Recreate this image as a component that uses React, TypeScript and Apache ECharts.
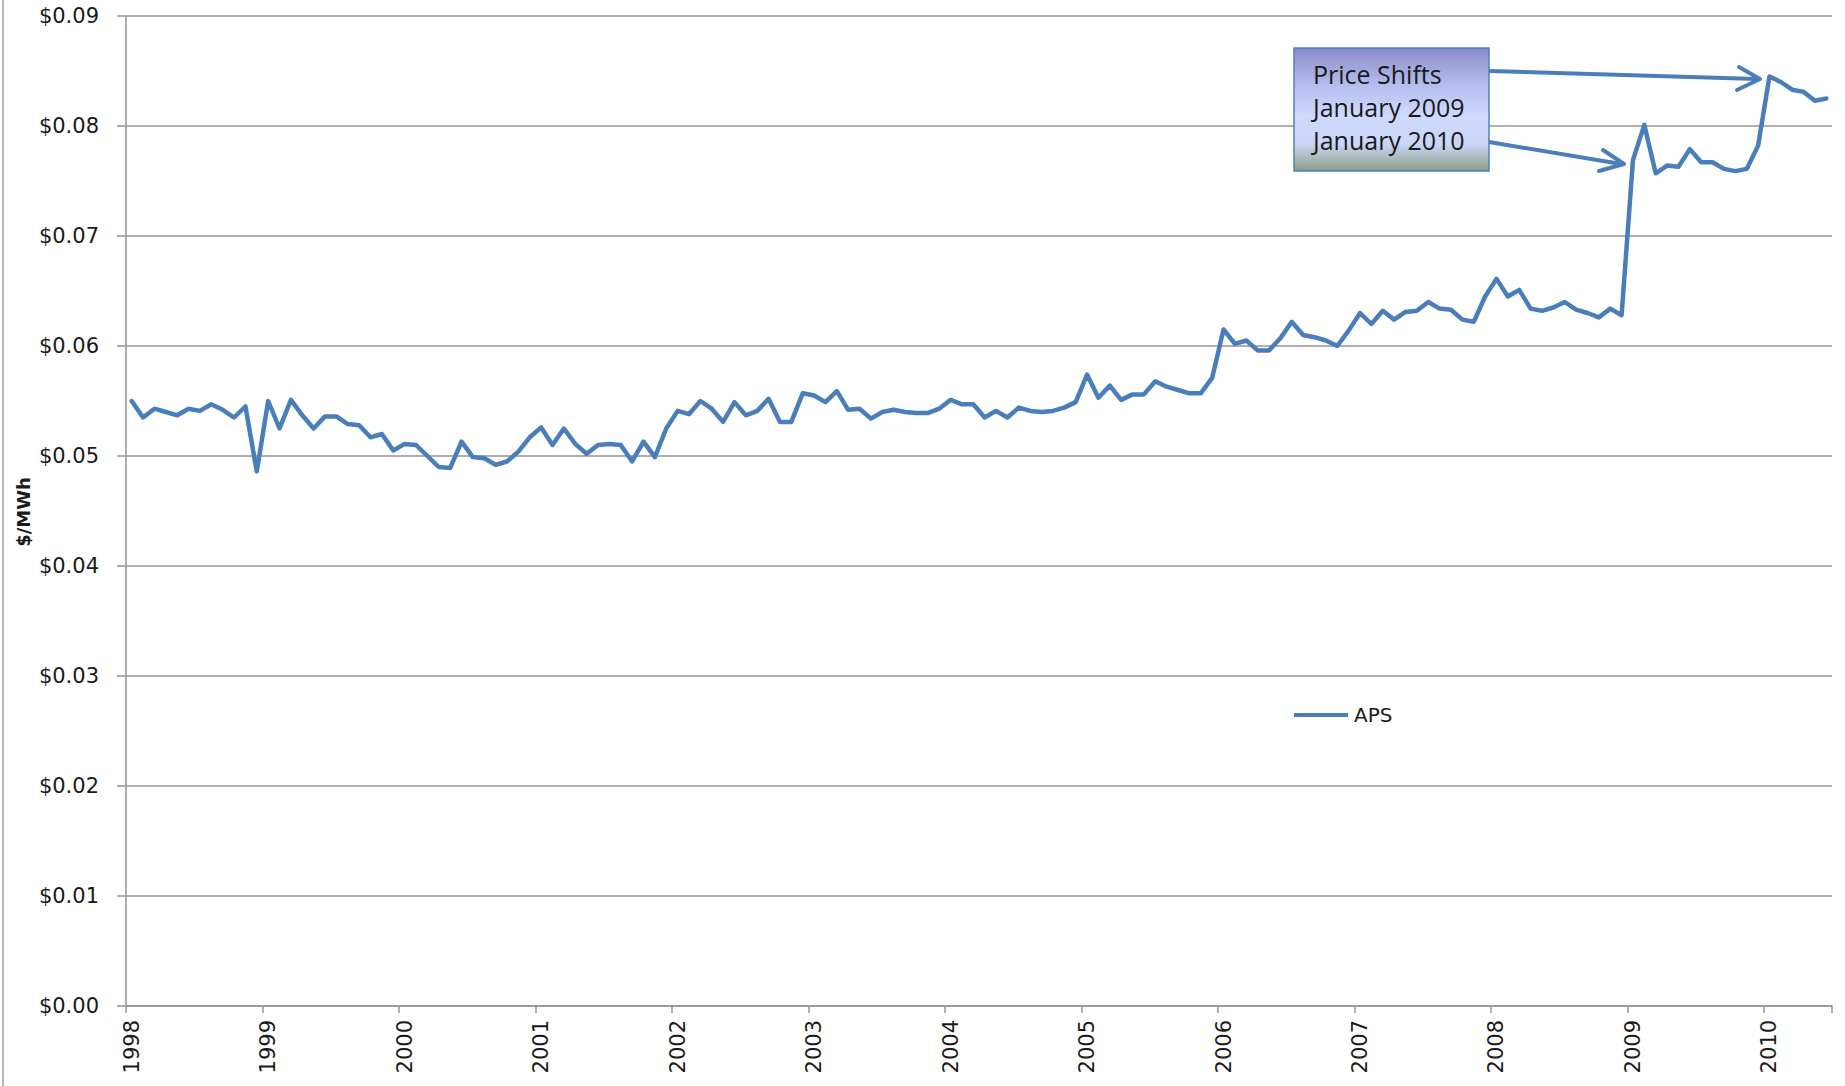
import React, { useEffect, useRef } from "react";
import * as echarts from "echarts";

const years = [1998, 1999, 2000, 2001, 2002, 2003, 2004, 2005, 2006, 2007, 2008, 2009, 2010];
const months = ["01", "02", "03", "04", "05", "06", "07", "08", "09", "10", "11", "12"];

const aps1998 = [0.0550, 0.0535, 0.0543, 0.0540, 0.0537, 0.0543, 0.0541, 0.0547, 0.0542, 0.0535, 0.0545, 0.0486];
const aps1999 = [0.0550, 0.0525, 0.0551, 0.0537, 0.0525, 0.0536, 0.0536, 0.0529, 0.0528, 0.0517, 0.0520, 0.0505];
const aps2000 = [0.0511, 0.0510, 0.0500, 0.0490, 0.0489, 0.0513, 0.0499, 0.0498, 0.0492, 0.0495, 0.0504, 0.0517];
const aps2001 = [0.0526, 0.0510, 0.0525, 0.0511, 0.0502, 0.0510, 0.0511, 0.0510, 0.0495, 0.0513, 0.0499, 0.0525];
const aps2002 = [0.0541, 0.0538, 0.0550, 0.0543, 0.0531, 0.0549, 0.0537, 0.0541, 0.0552, 0.0531, 0.0531, 0.0557];
const aps2003 = [0.0555, 0.0549, 0.0559, 0.0542, 0.0543, 0.0534, 0.0540, 0.0542, 0.0540, 0.0539, 0.0539, 0.0543];
const aps2004 = [0.0551, 0.0547, 0.0547, 0.0535, 0.0541, 0.0535, 0.0544, 0.0541, 0.0540, 0.0541, 0.0544, 0.0549];
const aps2005 = [0.0574, 0.0553, 0.0564, 0.0551, 0.0556, 0.0556, 0.0568, 0.0563, 0.0560, 0.0557, 0.0557, 0.0571];
const aps2006 = [0.0615, 0.0602, 0.0605, 0.0596, 0.0596, 0.0607, 0.0622, 0.0610, 0.0608, 0.0605, 0.0600, 0.0614];
const aps2007 = [0.0630, 0.0620, 0.0632, 0.0624, 0.0631, 0.0632, 0.0640, 0.0634, 0.0633, 0.0624, 0.0622, 0.0645];
const aps2008 = [0.0661, 0.0645, 0.0651, 0.0634, 0.0632, 0.0635, 0.0640, 0.0633, 0.0630, 0.0626, 0.0634, 0.0628];
const aps2009 = [0.0769, 0.0801, 0.0757, 0.0764, 0.0763, 0.0779, 0.0767, 0.0767, 0.0761, 0.0759, 0.0761, 0.0782];
const aps2010 = [0.0845, 0.0840, 0.0833, 0.0831, 0.0823, 0.0825];

const apsByYear = [aps1998, aps1999, aps2000, aps2001, aps2002, aps2003, aps2004, aps2005, aps2006, aps2007, aps2008, aps2009, aps2010];

const seriesName = "APS";
const yAxisTitle = "$/MWh";
const annotationLines = ["Price Shifts", "January 2009", "January 2010"];
const yMin = 0;
const yMax = 0.09;
const yStep = 0.01;

const FONT = "DejaVu Sans";
const BLUE = "#4a7ebb";
const GRID_GRAY = "#959595";

export default function App() {
  const ref = useRef<HTMLDivElement>(null);

  useEffect(() => {
    if (!ref.current) return;
    const chart = echarts.init(ref.current, undefined, { renderer: "svg" });

    const categories: string[] = [];
    const values: number[] = [];
    apsByYear.forEach((arr, yi) => {
      arr.forEach((v, mi) => {
        categories.push(`${years[yi]}-${months[mi]}`);
        values.push(v);
      });
    });

    const gradient = new echarts.graphic.LinearGradient(0, 0, 0, 1, [
      { offset: 0, color: "#8a8bc7" },
      { offset: 0.3, color: "#b4bdee" },
      { offset: 0.55, color: "#d0daff" },
      { offset: 0.78, color: "#cbd6f6" },
      { offset: 1, color: "#8b9d84" },
    ]);

    const option: any = {
      animation: false,
      backgroundColor: "#ffffff",
      grid: { left: 126, right: 13, top: 16, bottom: 80, containLabel: false },
      legend: {
        left: 1289,
        top: 700,
        itemWidth: 54,
        itemHeight: 4,
        itemGap: 6,
        icon: "rect",
        data: [seriesName],
        textStyle: { fontFamily: FONT, fontSize: 20, color: "#1a1a1a", padding: [0, 0, 0, 1] },
      },
      xAxis: {
        type: "category",
        data: categories,
        boundaryGap: true,
        axisLine: { show: true, lineStyle: { color: GRID_GRAY, width: 1.5 } },
        axisTick: { show: true, interval: 11, length: 7, inside: false, lineStyle: { color: GRID_GRAY, width: 1.5 } },
        axisLabel: {
          interval: 11,
          rotate: 90,
          margin: 14,
          fontFamily: FONT,
          fontSize: 21,
          color: "#1a1a1a",
          formatter: (v: string) => v.slice(0, 4),
        },
        splitLine: { show: false },
      },
      yAxis: {
        type: "value",
        min: yMin,
        max: yMax,
        interval: yStep,
        axisLine: { show: true, lineStyle: { color: GRID_GRAY, width: 1.5 } },
        axisTick: { show: true, length: 9, inside: false, lineStyle: { color: GRID_GRAY, width: 1.5 } },
        axisLabel: {
          margin: 27,
          fontFamily: FONT,
          fontSize: 21,
          color: "#1a1a1a",
          formatter: (v: number) => "$" + v.toFixed(2),
        },
        splitLine: { show: true, lineStyle: { color: GRID_GRAY, width: 1.5 } },
      },
      series: [
        {
          name: seriesName,
          type: "line",
          data: values,
          symbol: "none",
          showSymbol: false,
          lineStyle: { color: BLUE, width: 4.5, join: "round", cap: "round" },
          itemStyle: { color: BLUE },
          z: 3,
        },
      ],
      graphic: [
        {
          type: "line",
          shape: { x1: 3, y1: 0, x2: 3, y2: 1086 },
          style: { stroke: "#a0a0a0", lineWidth: 1.5 },
          z: 1,
        },
        {
          type: "text",
          x: 23,
          y: 512,
          rotation: Math.PI / 2,
          style: {
            text: yAxisTitle,
            fontFamily: FONT,
            fontSize: 18,
            fontWeight: "bold",
            fill: "#1a1a1a",
            textAlign: "center",
            textVerticalAlign: "middle",
          },
          z: 10,
        },
        {
          type: "rect",
          shape: { x: 1294, y: 48, width: 195, height: 123 },
          style: { fill: gradient, stroke: "#4f81bd", lineWidth: 1.5 },
          z: 20,
        },
        ...annotationLines.map((t, i) => ({
          type: "text",
          x: 1313,
          y: 74 + i * 33,
          style: {
            text: t,
            fontFamily: "Open Sans",
            fontSize: 25,
            fill: "#1a1a1a",
            textAlign: "left",
            textVerticalAlign: "middle",
          },
          z: 21,
        })),
        {
          type: "polyline",
          shape: { points: [[1489, 71], [1757, 79]] },
          style: { stroke: BLUE, lineWidth: 4, fill: "none" },
          z: 22,
        },
        {
          type: "polyline",
          shape: { points: [[1739, 67], [1760, 79], [1737, 90]] },
          style: { stroke: BLUE, lineWidth: 4, fill: "none", lineJoin: "round", lineCap: "round" },
          z: 22,
        },
        {
          type: "polyline",
          shape: { points: [[1489, 142], [1621, 164]] },
          style: { stroke: BLUE, lineWidth: 4, fill: "none" },
          z: 22,
        },
        {
          type: "polyline",
          shape: { points: [[1603, 150], [1624, 164], [1599, 171]] },
          style: { stroke: BLUE, lineWidth: 4, fill: "none", lineJoin: "round", lineCap: "round" },
          z: 22,
        },
      ],
    };

    chart.setOption(option);
    return () => chart.dispose();
  }, []);

  return (
    <div
      ref={ref}
      style={{ position: "fixed", left: 0, top: 0, width: 1845, height: 1086, background: "#fff" }}
    />
  );
}
